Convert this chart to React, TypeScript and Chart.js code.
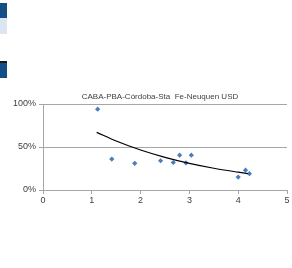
import React, { useEffect, useRef } from "react";
import { Chart, registerables } from "chart.js";

Chart.register(...registerables);

const TITLE = "CABA-PBA-Córdoba-Sta  Fe-Neuquen USD";
const pointX = [1.12, 1.41, 1.88, 2.41, 2.67, 2.8, 2.93, 3.04, 4.0, 4.15, 4.23];
const pointY = [94, 36, 31, 34, 32, 40.5, 31.5, 40.5, 15, 23, 19];
const trendX = [1.1, 1.5, 2.0, 2.5, 3.0, 3.5, 4.0, 4.2];
const trendY = [67, 57, 46.5, 38, 31, 25.3, 20.7, 19];
const xTicks = [0, 1, 2, 3, 4, 5];
const yTicks = [0, 50, 100];

const titlePlugin = {
  id: "topTitle",
  afterDraw(chart: any) {
    const { ctx, chartArea } = chart;
    ctx.save();
    ctx.font = "8px 'Liberation Sans', sans-serif";
    ctx.fillStyle = "#404040";
    ctx.textAlign = "center";
    ctx.textBaseline = "middle";
    ctx.fillText(TITLE, (chartArea.left + chartArea.right) / 2 - 5, chartArea.top - 7);
    ctx.restore();
  },
};

export default function App() {
  const ref = useRef<HTMLCanvasElement>(null);
  useEffect(() => {
    if (!ref.current) return;
    const chart = new Chart(ref.current, {
      type: "scatter",
      data: {
        datasets: [
          {
            type: "line",
            data: trendX.map((x, i) => ({ x, y: trendY[i] })),
            borderColor: "#000000",
            borderWidth: 1.2,
            pointRadius: 0,
            cubicInterpolationMode: "monotone",
            fill: false,
          } as any,
          {
            data: pointX.map((x, i) => ({ x, y: pointY[i] })),
            backgroundColor: "#4a7ebb",
            borderColor: "#4a7ebb",
            pointStyle: "rectRot",
            pointRadius: 2.6,
            borderWidth: 0,
          },
        ],
      },
      options: {
        animation: false,
        responsive: false,
        layout: { padding: { top: 104, left: 0, right: 5, bottom: 58 } },
        plugins: { legend: { display: false }, tooltip: { enabled: false } },
        scales: {
          x: {
            type: "linear",
            min: 0,
            max: 5,
            afterFit: (s: any) => { s.height = 20; },
            afterBuildTicks: (s: any) => { s.ticks = xTicks.map((v) => ({ value: v })); },
            ticks: {
              color: "#404040",
              font: { size: 9, family: "'Liberation Sans', sans-serif" },
              padding: 1,
              maxRotation: 0,
            },
            grid: { drawOnChartArea: false, drawTicks: true, tickLength: 4, color: "#a6a6a6" },
            border: { color: "#a6a6a6", width: 1 },
          },
          y: {
            type: "linear",
            min: 0,
            max: 100,
            afterFit: (s: any) => { s.width = 43; },
            afterBuildTicks: (s: any) => { s.ticks = yTicks.map((v) => ({ value: v })); },
            ticks: {
              color: "#404040",
              font: { size: 9, family: "'Liberation Sans', sans-serif" },
              padding: 3,
              callback: (v: any) => v + "%",
            },
            grid: { color: "#a6a6a6", lineWidth: 1, tickLength: 4 },
            border: { color: "#a6a6a6", width: 1 },
          },
        },
      },
      plugins: [titlePlugin],
    });
    return () => chart.destroy();
  }, []);

  return (
    <div style={{ position: "fixed", left: 0, top: 0, width: 292, height: 268, background: "#fff" }}>
      <div style={{ position: "absolute", left: 0, top: 3, width: 7, height: 15, background: "#134f86" }} />
      <div style={{ position: "absolute", left: 0, top: 18, width: 7, height: 16, background: "#dce6f1" }} />
      <div style={{ position: "absolute", left: 0, top: 61, width: 7, height: 2, background: "#1a1a1a" }} />
      <div style={{ position: "absolute", left: 0, top: 63, width: 7, height: 15, background: "#134f86" }} />
      <canvas ref={ref} width={292} height={268} style={{ position: "absolute", left: 0, top: 0 }} />
    </div>
  );
}
